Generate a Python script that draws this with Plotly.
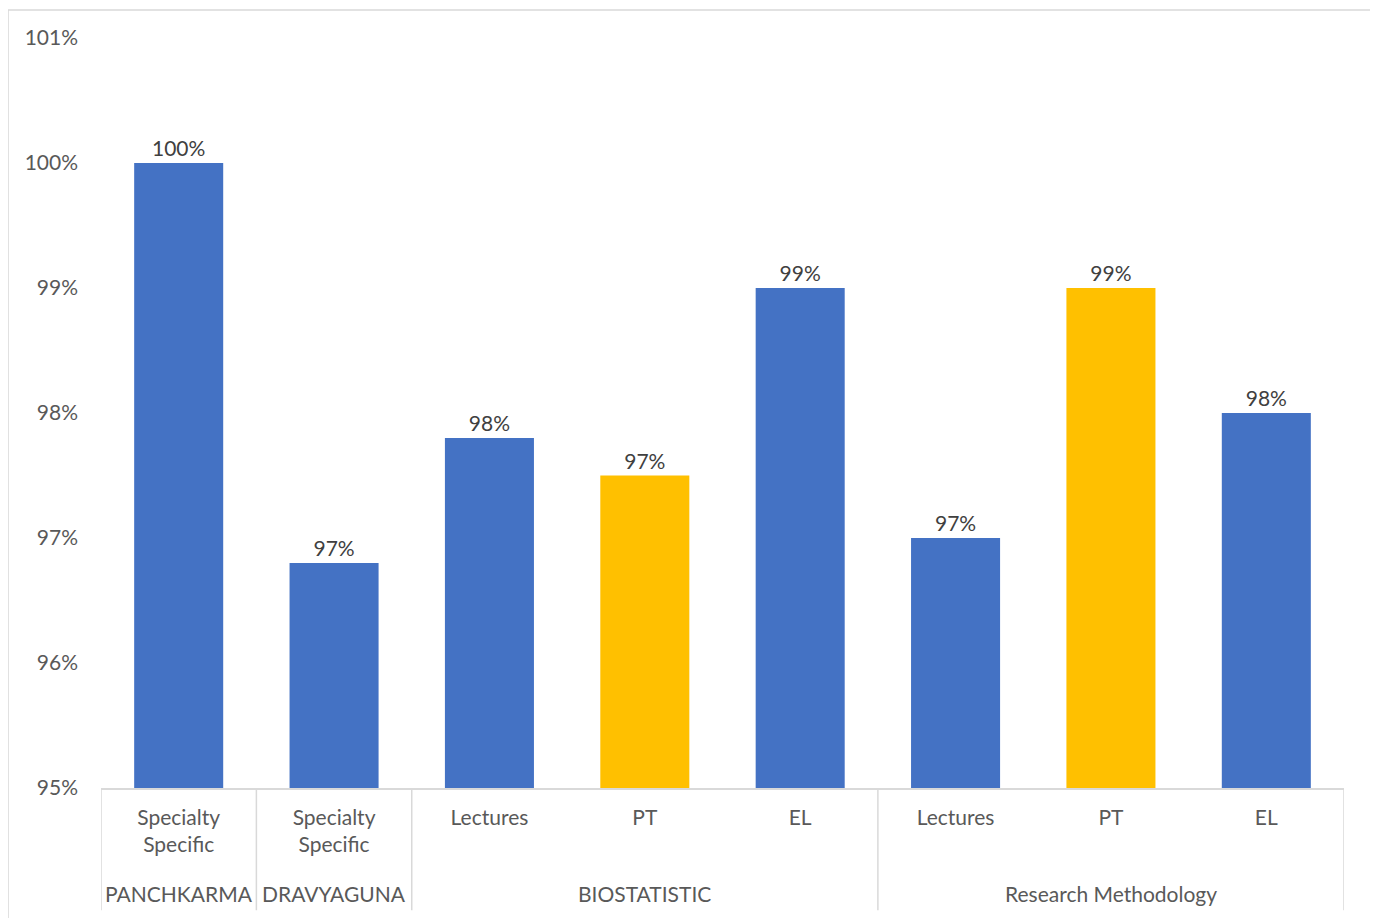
import plotly.graph_objects as go

# Data
groups = ["PANCHKARMA", "DRAVYAGUNA", "BIOSTATISTIC", "BIOSTATISTIC", "BIOSTATISTIC",
          "Research Methodology", "Research Methodology", "Research Methodology"]
items = ["Specialty<br>Specific", "Specialty<br>Specific", "Lectures", "PT", "EL",
         "Lectures", "PT", "EL"]
values = [1.00, 0.968, 0.978, 0.975, 0.99, 0.97, 0.99, 0.98]
labels = ["100%", "97%", "98%", "97%", "99%", "97%", "99%", "98%"]
colors = ["#4472C4", "#4472C4", "#4472C4", "#FFC000", "#4472C4", "#4472C4", "#FFC000", "#4472C4"]

xs = list(range(len(values)))
FONT = "Lato"
FS = 21

fig = go.Figure()
fig.add_trace(go.Bar(
    x=xs, y=values, marker=dict(color=colors, line=dict(width=0)),
    text=labels, textposition="outside", cliponaxis=False,
    textfont=dict(family=FONT, size=FS, color="#404040"),
    hoverinfo="skip",
))

# group labels and dividers
group_spans = []
start = 0
for i in range(1, len(groups) + 1):
    if i == len(groups) or groups[i] != groups[start]:
        group_spans.append((groups[start], start, i - 1))
        start = i

shapes = []
annotations = []
for name, a, b in group_spans:
    annotations.append(dict(
        x=(a + b) / 2, y=-0.141, xref="x", yref="paper", text=name, showarrow=False,
        font=dict(family=FONT, size=FS, color="#595959"), yanchor="middle",
    ))
dividers = [-0.5] + [b + 0.5 for _, a, b in group_spans]
for d in dividers:
    shapes.append(dict(type="line", xref="x", yref="paper", x0=d, x1=d, y0=0, y1=-0.163,
                       line=dict(color="#D9D9D9", width=1.5)))

# outer chart border (no bottom edge)
shapes.append(dict(type="path", xref="paper", yref="paper",
                   path="M -0.0748,-0.2 L -0.0748,1.0373 L 1.0225,1.0373 L 1.0225,-0.2",
                   line=dict(color="#D9D9D9", width=1.5)))

fig.update_layout(
    width=1370, height=910,
    margin=dict(l=93, r=34, t=30, b=130),
    paper_bgcolor="white", plot_bgcolor="white",
    bargap=0.427, showlegend=False,
    shapes=shapes, annotations=annotations,
    font=dict(family=FONT, size=FS, color="#595959"),
)
fig.update_xaxes(
    range=[-0.5, 7.5], tickmode="array", tickvals=xs, ticktext=items,
    showline=True, linecolor="#D9D9D9", linewidth=1.5, showgrid=False, zeroline=False,
    ticks="", tickfont=dict(family=FONT, size=FS, color="#595959"), ticklabelstandoff=10,
)
fig.update_yaxes(
    range=[0.95, 1.01], dtick=0.01, tick0=0.95, tickformat=".0%",
    showgrid=False, zeroline=False, showline=False, ticks="",
    tickfont=dict(family=FONT, size=FS, color="#595959"), ticklabelstandoff=22,
)

fig.write_html("out.html")
